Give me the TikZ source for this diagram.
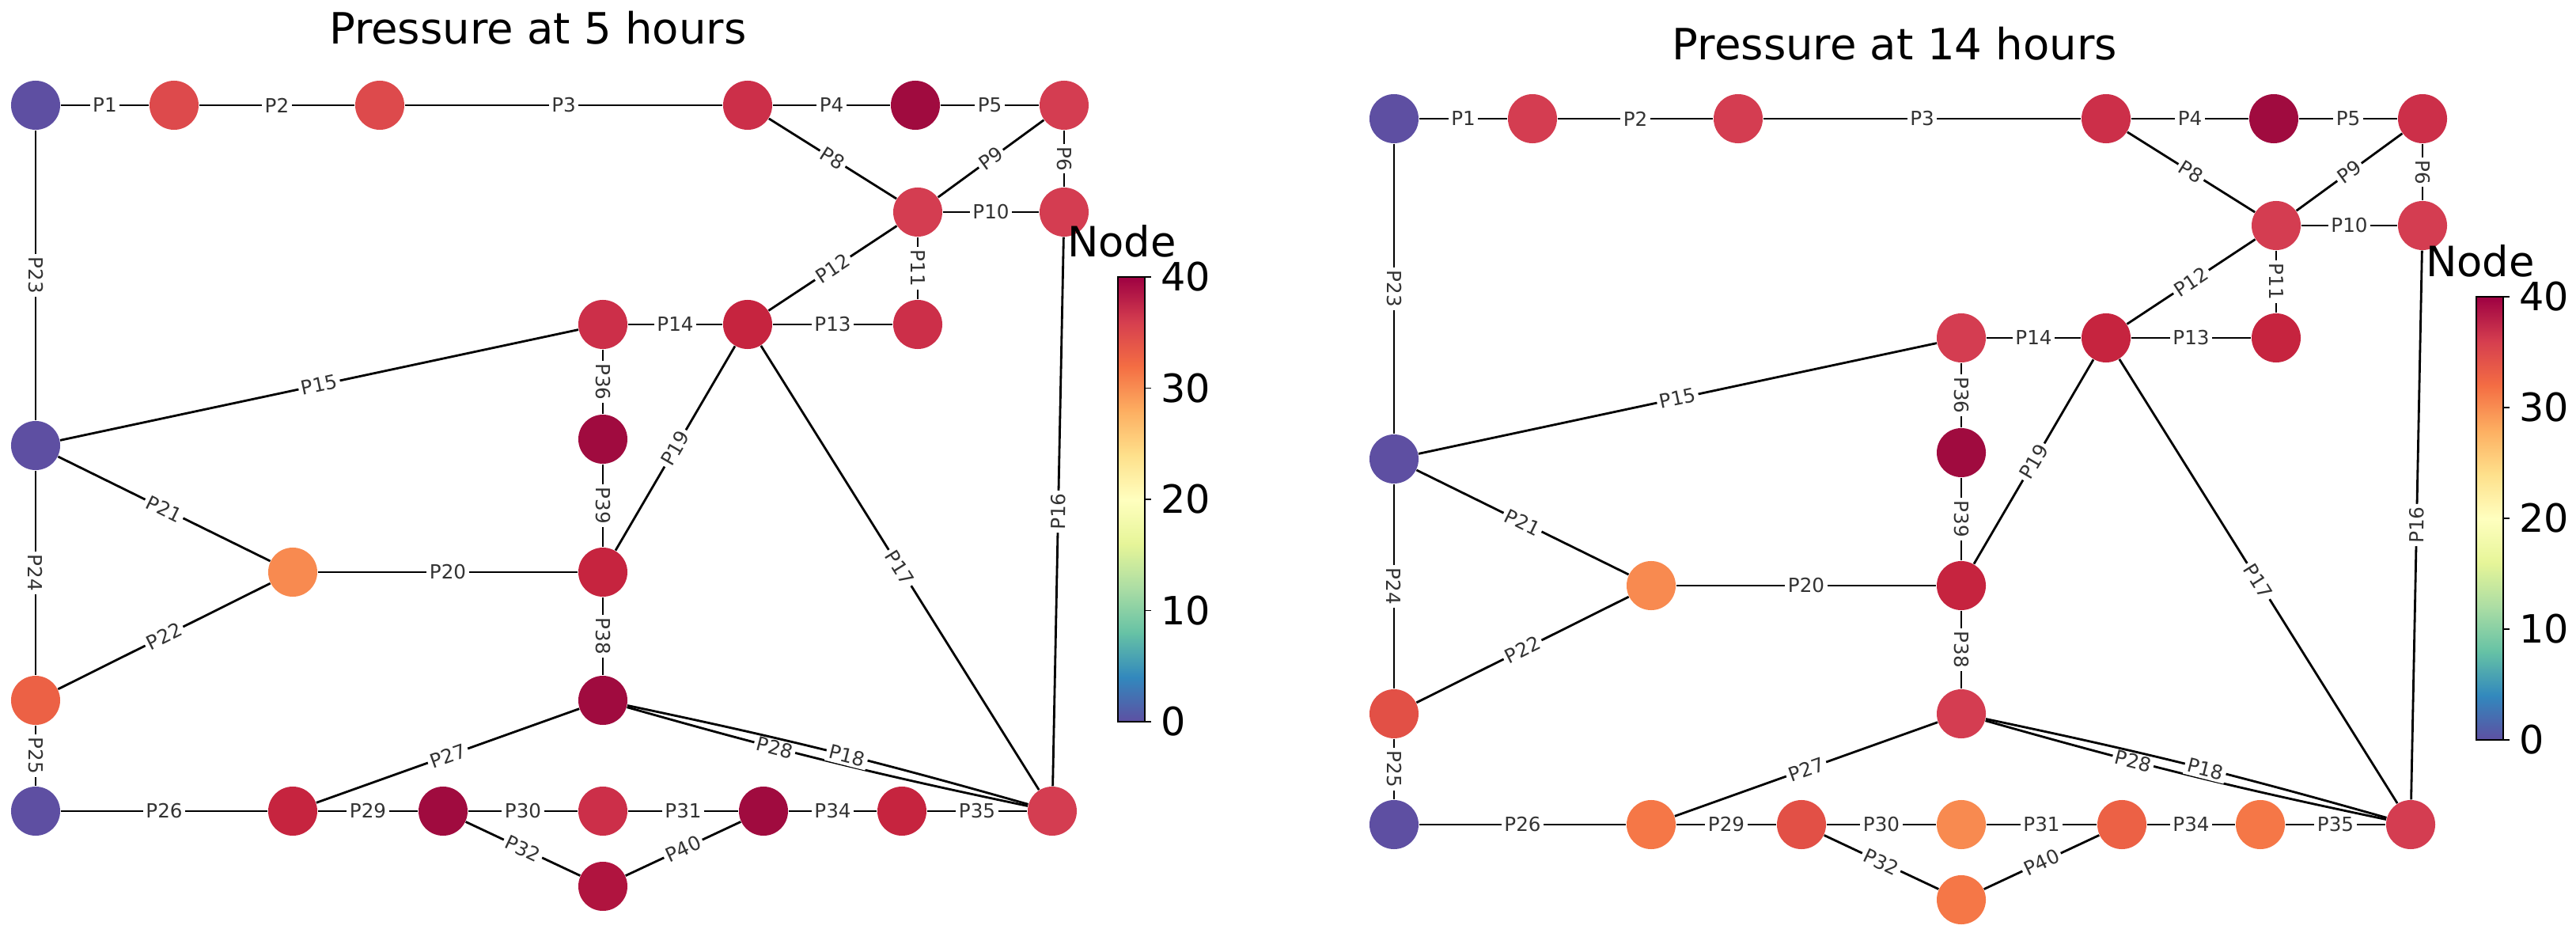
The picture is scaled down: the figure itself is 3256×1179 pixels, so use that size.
\documentclass[tikz,border=0pt]{standalone}
\usepackage{fontspec}
\setmainfont{DejaVu Sans}
\usepackage{xcolor}
\definecolor{cblue}{HTML}{5E4FA2}
\definecolor{cdark}{HTML}{A00B3F}
\definecolor{cdeep}{HTML}{B0143F}
\definecolor{ccrim}{HTML}{C6243F}
\definecolor{cred}{HTML}{CC2F49}
\definecolor{crose}{HTML}{D43D51}
\definecolor{clred}{HTML}{DD4A4C}
\definecolor{cver}{HTML}{E25046}
\definecolor{corr}{HTML}{EC6145}
\definecolor{cor}{HTML}{F57747}
\definecolor{cora}{HTML}{F88A50}
\definecolor{s0}{HTML}{5E4FA2}\definecolor{s1}{HTML}{3288BD}\definecolor{s2}{HTML}{66C2A5}
\definecolor{s3}{HTML}{ABDDA4}\definecolor{s4}{HTML}{E6F598}\definecolor{s5}{HTML}{FFFFBF}
\definecolor{s6}{HTML}{FEE08B}\definecolor{s7}{HTML}{FDAE61}\definecolor{s8}{HTML}{F46D43}
\definecolor{s9}{HTML}{D53E4F}\definecolor{s10}{HTML}{9E0142}

\tikzset{jn/.style={circle, minimum size=0.62cm, inner sep=0pt},
  pipe/.style={draw, thick},
  plab/.style={sloped, fill=white, inner sep=1pt, font=\fontsize{7}{8}\selectfont, text=black!80},
  ttl/.style={font=\fontsize{15.5}{18}\selectfont},
  tck/.style={font=\fontsize{14}{16}\selectfont, anchor=west}}

% pipes of one panel, node names carry a prefix
\newcommand{\pipes}[1]{
  \foreach \u/\v/\l in {a/b/P1,b/c/P2,c/d/P3,d/e/P4,e/f/P5,d/g/P8,g/f/P9,f/h/P6,g/h/P10,
      g/j/P11,g/i/P12,i/j/P13,k/i/P14,m/k/P15,h/y/P16,i/y/P17,p/i/P19,o/p/P20,m/o/P21,
      q/o/P22,a/m/P23,m/q/P24,q/s/P25,s/t/P26,t/r/P27,t/u/P29,u/v/P30,v/w/P31,w/x/P34,
      x/y/P35,u/z/P32,z/w/P40,k/l/P36,l/p/P39,p/r/P38}
    \draw[pipe] (#1\u) -- node[plab] {\l} (#1\v);
  \draw[pipe] (#1r) to[bend right=2] node[plab, pos=0.36] {P28} (#1y);
  \draw[pipe] (#1r) to[bend left=2] node[plab, pos=0.55] {P18} (#1y);
}
% colour bar with ticks
\newcommand{\cbar}[4]{
  \foreach \i [evaluate=\i as \j using int(\i+1)] in {0,...,9}
    \shade[bottom color=s\i, top color=s\j] ({#1},{#3-\i/10*(#3-#2)+0.5}) rectangle
        ({#1+34},{#3-\j/10*(#3-#2)});
  \draw ({#1},{#2}) rectangle ({#1+34},{#3});
  \foreach \t in {0,10,20,30,40}
    \draw ({#1+34},{#3-\t/40*(#3-#2)}) -- ++(8,0) node[tck] {\t};
  \node[font=\fontsize{15}{18}\selectfont] (#4) at ({#1+5},{#2-45}) {Node};
}

\begin{document}
\begin{tikzpicture}[x=0.01cm,y=-0.01cm]
\useasboundingbox (0,0) rectangle (3256,1179);
\node[ttl] (t1) at (680,35) {Pressure at 5 hours};
\node[ttl] (t2) at (2395,55) {Pressure at 14 hours};

% left panel
\foreach \n/\x/\y/\c in {a/45/133/cblue,b/220/133/clred,c/480/133/clred,d/945/133/cred,
    e/1157/133/cdark,f/1345/133/crose,g/1160/268/crose,h/1345/268/crose,i/945/410/ccrim,
    j/1160/410/cred,k/762/410/cred,l/762/555/cdark,m/45/563/cblue,o/370/723/cora,
    p/762/723/ccrim,q/45/885/corr,r/762/885/cdark,s/45/1025/cblue,t/370/1025/ccrim,
    u/560/1025/cdark,v/762/1025/cred,w/965/1025/cdark,x/1140/1025/ccrim,y/1330/1025/crose,
    z/762/1120/cdeep}
  \node[jn, fill=\c] (L\n) at (\x,\y) {};
\pipes{L}
\cbar{1413}{350}{912}{cb1}

% right panel
\begin{scope}[shift={(1717,17)}]
\foreach \n/\x/\y/\c in {a/45/133/cblue,b/220/133/crose,c/480/133/crose,d/945/133/cred,
    e/1157/133/cdark,f/1345/133/cred,g/1160/268/crose,h/1345/268/crose,i/945/410/ccrim,
    j/1160/410/ccrim,k/762/410/crose,l/762/555/cdark,m/45/563/cblue,o/370/723/cora,
    p/762/723/ccrim,q/45/885/cver,r/762/885/crose,s/45/1025/cblue,t/370/1025/cor,
    u/560/1025/cver,v/762/1025/cora,w/965/1025/corr,x/1140/1025/cor,y/1330/1025/crose,
    z/762/1120/cor}
  \node[jn, fill=\c] (R\n) at (\x,\y) {};
\pipes{R}
\end{scope}
\cbar{3130}{375}{935}{cb2}
\end{tikzpicture}
\end{document}
